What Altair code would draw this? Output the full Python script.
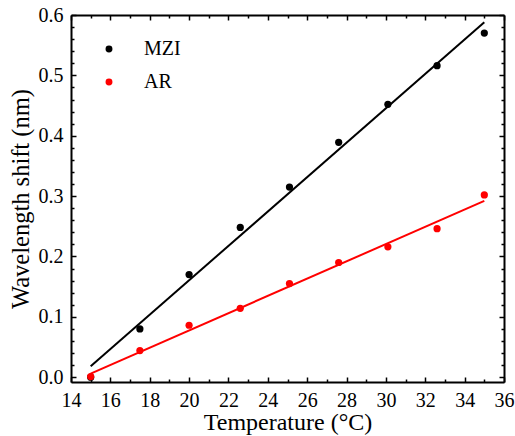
import altair as alt
import pandas as pd

# ---- data ----
temps = [15, 17.5, 20, 22.6, 25.1, 27.6, 30.1, 32.6, 35]
mzi = [0.0, 0.080, 0.170, 0.248, 0.315, 0.389, 0.452, 0.516, 0.570]
ar = [0.001, 0.044, 0.086, 0.114, 0.155, 0.190, 0.216, 0.246, 0.302]
fit_temps = [15, 35]
mzi_fit = [0.018, 0.588]
ar_fit = [0.006, 0.292]
series_names = ["MZI", "AR"]
series_colors = ["black", "red"]

x_major = [14, 16, 18, 20, 22, 24, 26, 28, 30, 32, 34, 36]
x_minor = [15, 17, 19, 21, 23, 25, 27, 29, 31, 33, 35]
y_major = [0.0, 0.1, 0.2, 0.3, 0.4, 0.5, 0.6]
y_minor = [0.02, 0.04, 0.06, 0.08, 0.12, 0.14, 0.16, 0.18, 0.22, 0.24, 0.26, 0.28,
           0.32, 0.34, 0.36, 0.38, 0.42, 0.44, 0.46, 0.48, 0.52, 0.54, 0.56, 0.58]

W, H = 433, 367
FONT = "Liberation Serif"

pts = pd.DataFrame({
    "temp": temps * 2,
    "shift": mzi + ar,
    "series": ["MZI"] * len(temps) + ["AR"] * len(temps),
})
fits = pd.DataFrame({
    "temp": fit_temps * 2,
    "shift": mzi_fit + ar_fit,
    "series": ["MZI"] * 2 + ["AR"] * 2,
})

xs = alt.Scale(domain=[14, 36], nice=False, zero=False)
ys = alt.Scale(domain=[-0.008, 0.6], nice=False, zero=False)
cs = alt.Scale(domain=series_names, range=series_colors)

main_x = alt.Axis(orient="bottom", values=x_major, format="d", ticks=False,
                  domain=True, domainWidth=2, domainColor="black", grid=False,
                  labelFlush=False, labelOverlap=False,
                  labelFont=FONT, labelFontSize=20, labelColor="black", labelPadding=8,
                  title="Temperature (°C)", titleFont=FONT, titleFontSize=24,
                  titleFontWeight="normal", titleColor="black", titlePadding=0)
main_y = alt.Axis(orient="left", values=y_major, format=".1f", ticks=False,
                  domain=True, domainWidth=2, domainColor="black", grid=False,
                  labelFlush=False, labelOverlap=False,
                  labelFont=FONT, labelFontSize=20, labelColor="black", labelPadding=8,
                  title="Wavelength shift (nm)", titleFont=FONT, titleFontSize=24.5,
                  titleFontWeight="normal", titleColor="black", titlePadding=5)

legend = alt.Legend(orient="none", legendX=28, legendY=24, title=None,
                    labelFont=FONT, labelFontSize=20, labelColor="black",
                    symbolType="circle", symbolSize=48, symbolStrokeWidth=0,
                    rowPadding=13, labelOffset=25, padding=0)

lines = alt.Chart(fits).mark_line(strokeWidth=2).encode(
    x=alt.X("temp:Q", scale=xs, axis=main_x),
    y=alt.Y("shift:Q", scale=ys, axis=main_y),
    color=alt.Color("series:N", scale=cs, sort=series_names, legend=legend),
    detail="series:N",
)

points = alt.Chart(pts).mark_circle(size=52, opacity=1).encode(
    x=alt.X("temp:Q", scale=xs, axis=None),
    y=alt.Y("shift:Q", scale=ys, axis=None),
    color=alt.Color("series:N", scale=cs, sort=series_names, legend=legend),
    order=alt.Order("order:Q"),
).transform_calculate(order="datum.series == 'AR' ? 1 : 0")


def tick_layer(xorient, yorient, xvals, yvals, size, with_domain):
    ax = alt.Axis(orient=xorient, offset=-H, values=xvals, labels=False, ticks=True,
                  tickSize=size, tickWidth=1.5, tickColor="black", domain=with_domain,
                  domainWidth=2, domainColor="black", grid=False, title=None)
    ay = alt.Axis(orient=yorient, offset=-W, values=yvals, labels=False, ticks=True,
                  tickSize=size, tickWidth=1.5, tickColor="black", domain=with_domain,
                  domainWidth=2, domainColor="black", grid=False, title=None)
    return alt.Chart(pts).mark_point(opacity=0).encode(
        x=alt.X("temp:Q", scale=xs, axis=ax),
        y=alt.Y("shift:Q", scale=ys, axis=ay),
    )


layers = [
    lines,
    points,
    tick_layer("top", "right", x_major, y_major, 5, False),   # inward ticks, bottom & left
    tick_layer("top", "right", x_minor, y_minor, 3, False),
    tick_layer("bottom", "left", x_major, y_major, 5, True),  # top & right frame + inward ticks
    tick_layer("bottom", "left", x_minor, y_minor, 3, False),
]

chart = alt.layer(*layers).resolve_axis(x="independent", y="independent").properties(
    width=W, height=H,
    autosize=alt.AutoSizeParams(type="none"),
    padding={"left": 71, "top": 15, "right": 11, "bottom": 54},
).configure_view(stroke=None).configure(background="white")

chart.save("out.html", embed_options={"renderer": "svg", "actions": False})
